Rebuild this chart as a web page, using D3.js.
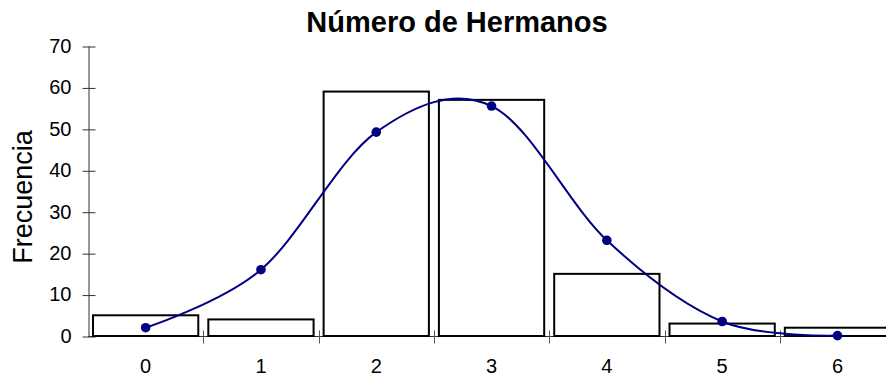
<!DOCTYPE html>
<html>
<head>
<meta charset="utf-8">
<script src="https://cdn.jsdelivr.net/npm/d3@7"></script>
<style>
  body { margin: 0; background: #fff; }
  text { font-family: "Liberation Sans", Arial, sans-serif; fill: #000; }
</style>
</head>
<body>
<div id="chart"></div>
<script>
const categories = ['0', '1', '2', '3', '4', '5', '6'];
const frequencies = [5, 4, 59, 57, 15, 3, 2];
const expected = [2.0, 16.0, 49.2, 55.5, 23.1, 3.5, 0.1];
const yTicks = [0, 10, 20, 30, 40, 50, 60, 70];

const width = 886, height = 377;
const margin = { left: 88, top: 46, bottom: 41 };

const svg = d3.select('#chart').append('svg')
  .attr('width', width)
  .attr('height', height);

// band scale runs past the right edge, the last bar is cut as in the picture
const x = d3.scaleBand()
  .domain(categories)
  .range([margin.left, margin.left + 7 * 115.3])
  .paddingInner(0.087)
  .paddingOuter(0.0435);

const y = d3.scaleLinear()
  .domain([0, 70])
  .range([height - margin.bottom, margin.top]);

// y axis
const yAxis = svg.append('g')
  .attr('transform', `translate(${margin.left + 0.5},0)`)
  .call(d3.axisLeft(y).tickValues(yTicks).tickSizeInner(-7).tickSizeOuter(0).tickPadding(0));
yAxis.select('.domain').attr('stroke', '#333');
yAxis.selectAll('.tick line').remove();
yAxis.selectAll('.tick').append('line')
  .attr('x1', -6).attr('x2', 7)
  .attr('y1', 0.5).attr('y2', 0.5)
  .attr('stroke', '#333');
yAxis.selectAll('.tick text')
  .attr('x', -17)
  .attr('font-size', '20px')
  .attr('font-family', '"Liberation Sans", Arial, sans-serif')
  .attr('fill', '#000');

// x axis line and boundary ticks
const y0 = Math.round(y(0)) + 0.5;
svg.append('line')
  .attr('x1', margin.left).attr('x2', width)
  .attr('y1', y0).attr('y2', y0)
  .attr('stroke', '#333');

const bounds = categories.map(c => x(c) - x.step() * x.paddingInner() / 2).slice(1);
svg.selectAll('.xtick')
  .data(bounds)
  .join('line')
  .attr('class', 'xtick')
  .attr('x1', d => Math.round(d) + 0.5).attr('x2', d => Math.round(d) + 0.5)
  .attr('y1', y0 - 6).attr('y2', y0 + 7)
  .attr('stroke', '#555');

svg.selectAll('.xlabel')
  .data(categories)
  .join('text')
  .attr('class', 'xlabel')
  .attr('x', d => x(d) + x.bandwidth() / 2)
  .attr('y', 373)
  .attr('text-anchor', 'middle')
  .attr('font-size', '20px')
  .text(d => d);

// bars
svg.selectAll('.bar')
  .data(frequencies)
  .join('rect')
  .attr('class', 'bar')
  .attr('x', (d, i) => x(categories[i]))
  .attr('y', d => y(d))
  .attr('width', x.bandwidth())
  .attr('height', d => y(0) - y(d))
  .attr('fill', '#fff')
  .attr('stroke', '#000')
  .attr('stroke-width', 2);

// smoothed expected curve
const line = d3.line()
  .x((d, i) => x(categories[i]) + x.bandwidth() / 2)
  .y(d => y(d))
  .curve(d3.curveCardinal.tension(0));

svg.append('path')
  .datum(expected)
  .attr('d', line)
  .attr('fill', 'none')
  .attr('stroke', '#000080')
  .attr('stroke-width', 2);

svg.selectAll('.dot')
  .data(expected)
  .join('circle')
  .attr('class', 'dot')
  .attr('cx', (d, i) => x(categories[i]) + x.bandwidth() / 2)
  .attr('cy', d => y(d))
  .attr('r', 4.8)
  .attr('fill', '#000080');

// titles
svg.append('text')
  .attr('x', 457)
  .attr('y', 32)
  .attr('text-anchor', 'middle')
  .attr('font-size', '29px')
  .attr('font-weight', 'bold')
  .text('Número de Hermanos');

svg.append('text')
  .attr('transform', 'translate(32,197) rotate(-90)')
  .attr('text-anchor', 'middle')
  .attr('font-size', '27px')
  .text('Frecuencia');
</script>
</body>
</html>
